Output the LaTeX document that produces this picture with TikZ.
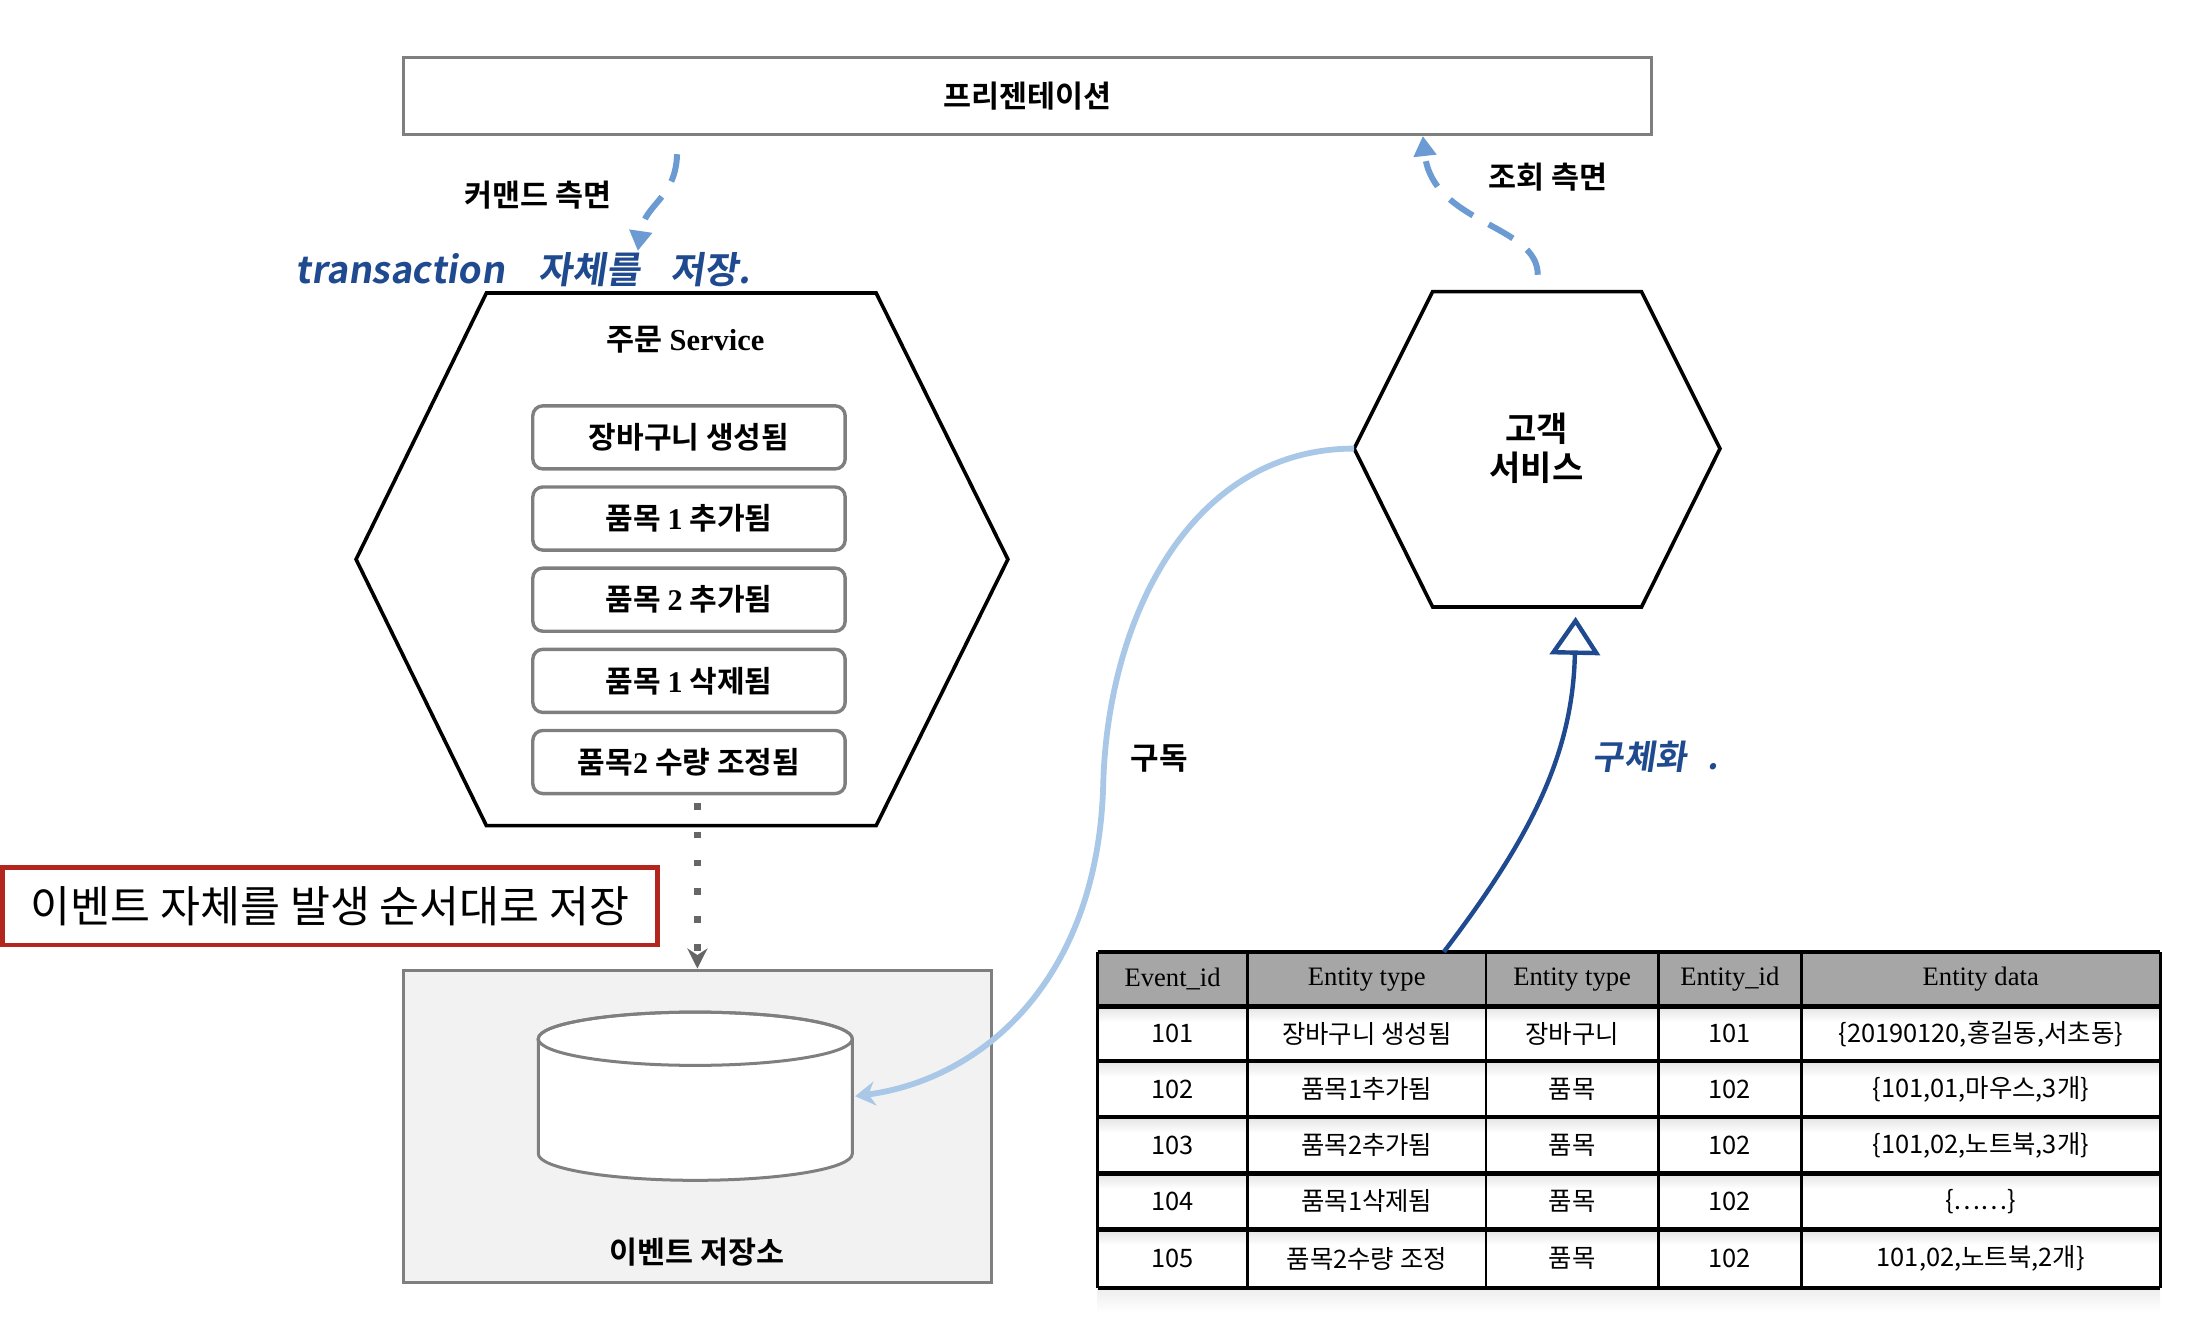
\documentclass[tikz,border=0pt]{standalone}
\usepackage{fontspec}
\setmainfont{Noto Sans CJK KR}[BoldFont={Noto Sans CJK KR Bold}]
\newfontfamily\serifb{Liberation Serif}
\newfontfamily\handfont{Noto Sans CJK KR Bold}[FakeSlant=0.15]
\usepackage{xcolor}
\usetikzlibrary{positioning, arrows.meta, calc}

\definecolor{boxgray}{HTML}{7F7F7F}
\definecolor{dotgray}{HTML}{666666}
\definecolor{storefill}{HTML}{F2F2F2}
\definecolor{headgray}{HTML}{A6A6A6}
\definecolor{notered}{HTML}{B3261E}
\definecolor{handblue}{HTML}{1F4A8F}
\definecolor{dashblue}{HTML}{6B9BD2}
\definecolor{subblue}{HTML}{A9C8E8}

\begin{document}
\begin{tikzpicture}[x=0.7pt, y=-0.7pt,
    hexline/.style={draw=black, line width=1.8pt, line join=miter},
    evbox/.style={draw=boxgray, line width=1.7pt, rounded corners=5pt,
      minimum width=156pt, minimum height=31.5pt,
      font=\bfseries\fontsize{15}{17}\selectfont},
    lbl/.style={font=\bfseries\fontsize{15.2}{17}\selectfont},
    hand/.style={text=handblue, font=\handfont\fontsize{18.5}{21}\selectfont},
    qline/.style={draw=dashblue, line width=3pt, dash pattern=on 14pt off 9pt},
    tcell/.style={font=\fontsize{12.7}{14}\selectfont},
    thead/.style={font=\serifb\fontsize{13.3}{15}\selectfont}]
  \useasboundingbox (0,0) rectangle (1568,949);

  % Presentation box
  \node[draw=boxgray, line width=1.5pt, minimum width=623pt, minimum height=38.5pt, lbl]
    (pres) at (733,68.5) {프리젠테이션};

  % Command side
  \coordinate (cmd-s) at (483,110);
  \coordinate (cmd-e) at (455,179);
  \draw[qline, -{Triangle[length=10pt, width=11pt]}]
    (cmd-s) .. controls (482,142) and (460,145) .. (cmd-e);
  \node[lbl] (cmdlbl) at (384,139) {커맨드 측면};
  \node[hand] (hand1) at (373,192)
    {transaction\hspace{0.9em}자체를\hspace{0.8em}저장.};

  % Order service hexagon
  \draw[hexline] (347,209) -- (625,209) -- (719,399) -- (625,589)
    -- (347,589) -- (254,399) -- cycle;
  \node[lbl] (ordtitle) at (489,242) {주문 {\serifb\bfseries Service}};
  \foreach \lbl [count=\i] in {장바구니 생성됨,
      품목 {\serifb\bfseries 1} 추가됨, 품목 {\serifb\bfseries 2} 추가됨,
      품목 {\serifb\bfseries 1} 삭제됨, 품목{\serifb\bfseries 2} 수량 조정됨}
    \node[evbox] (ev\i) at (491.5,{312+57.9*(\i-1)}) {\lbl};

  % Note box
  \node[draw=notered, line width=2.3pt, minimum width=327pt, minimum height=38.5pt,
    font=\fontsize{21.7}{25}\selectfont] (note) at (235.5,646.5)
    {이벤트 자체를 발생 순서대로 저장};

  % Event store
  \node[draw=boxgray, fill=storefill, line width=1.5pt, minimum width=293.3pt,
    minimum height=156.1pt] (store) at (497.5,803.5) {};
  \filldraw[fill=white, draw=boxgray, line width=1.5pt]
    (384,741) -- (384,823) arc[start angle=180, end angle=360, x radius=78.4pt, y radius=13.3pt]
    -- (608,741) arc[start angle=0, end angle=180, x radius=78.4pt, y radius=13.3pt] -- cycle;
  \draw[boxgray, line width=1.5pt] (496,741) ellipse[x radius=78.4pt, y radius=13.3pt];
  \coordinate (db-e) at (610,782);
  \node[lbl] (storelbl) at (497,893) {이벤트 저장소};

  % Dotted flow into the store
  \draw[dotgray, line width=3.3pt, dash pattern=on 3.3pt off 10.8pt, shorten <=4pt,
    -{Stealth[length=10pt, width=10pt]}] (ev5.south -| store.north) -- (store.north);

  % Customer service hexagon
  \draw[hexline] (1022,208) -- (1171,208) -- (1227,320) -- (1171,433)
    -- (1022,433) -- (966,320) -- cycle;
  \node[align=center, font=\bfseries\fontsize{17}{19.5}\selectfont] (cust) at (1096,320)
    {고객\\서비스};
  \coordinate (cust-w) at (966,320);
  \coordinate (cust-n) at (1097,196);
  \coordinate (cust-s) at (1124,440);

  % Query side
  \coordinate (qry-e) at (1015,97);
  \draw[qline, -{Triangle[length=10pt, width=11pt]}]
    (cust-n) .. controls (1097,160) and (1022,160) .. (qry-e);
  \node[lbl] (qrylbl) at (1104,126) {조회 측면};

  % Subscription
  \draw[subblue, line width=2.9pt, -{Stealth[length=10pt, width=12pt]}]
    (cust-w) .. controls (850,320) and (790,440) .. (787,560)
    .. controls (783,700) and (700,770) .. (db-e);
  \node[font=\bfseries\fontsize{15.5}{17}\selectfont] (sublbl) at (827,541) {구독};

  % Event table
  \fill[headgray] (783,679) rectangle (1541,718);
  \foreach \yy in {718,757,797,837,877}
    \shade[top color=gray!22, bottom color=white] (783,\yy) rectangle (1541,\yy+11);
  \shade[top color=gray!14, bottom color=white] (783,919) rectangle (1541,936);
  \foreach \yy in {679,718,757,797,837,877,919}
    \draw[line width=2.2pt] (783,\yy) -- (1541,\yy);
  \foreach \xx in {783,890,1060,1183,1285,1541}
    \draw[line width=1.4pt] (\xx,679) -- (\xx,919);
  \foreach \k/\xx/\t in {1/836.5/Event\_id, 2/975/Entity type, 3/1121.5/Entity type,
      4/1234/Entity\_id, 5/1413/Entity data}
    \node[thead] (h\k) at (\xx,698.5) {\t};
  \foreach \i/\yy/\ca/\cb/\cc/\cd/\ce in {
      1/737.5/101/{장바구니 생성됨}/{장바구니}/101/{\{20190120,홍길동,서초동\}},
      2/777/102/{품목1추가됨}/{품목}/102/{\{101,01,마우스,3개\}},
      3/817/103/{품목2추가됨}/{품목}/102/{\{101,02,노트북,3개\}},
      4/857/104/{품목1삭제됨}/{품목}/102/{\{……\}},
      5/898/105/{품목2수량 조정}/{품목}/102/{101,02,노트북,2개\}}}
  {
    \node[tcell] (r\i-1) at (836.5,\yy) {\ca};
    \node[tcell] (r\i-2) at (975,\yy) {\cb};
    \node[tcell] (r\i-3) at (1121.5,\yy) {\cc};
    \node[tcell] (r\i-4) at (1234,\yy) {\cd};
    \node[tcell] (r\i-5) at (1413,\yy) {\ce};
  }

  % Materialization
  \coordinate (tbl-n) at (1030,679);
  \draw[handblue, line width=2.2pt, -{Triangle[open, length=19pt, width=25pt, fill=white]}]
    (tbl-n) .. controls (1090,600) and (1122,540) .. (cust-s);
  \node[hand, font=\handfont\fontsize{17}{19}\selectfont] (hand2) at (1181,540)
    {구체화\hspace{0.6em}.};
\end{tikzpicture}
\end{document}
